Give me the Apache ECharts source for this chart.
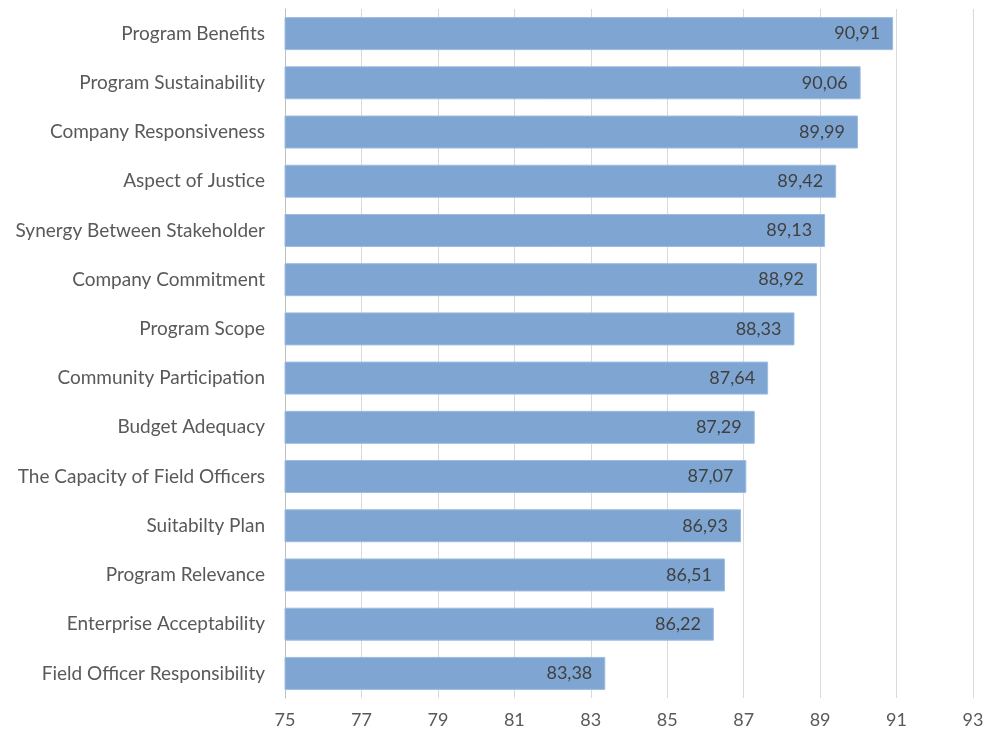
<!DOCTYPE html>
<html><head><meta charset="utf-8">
<script src="https://cdn.jsdelivr.net/npm/echarts@6/dist/echarts.min.js"></script>
<style>html,body{margin:0;padding:0;background:#fff}#c{width:987px;height:735px}</style>
</head><body><div id="c"></div>
<script>
const categories = ["Program Benefits","Program Sustainability","Company Responsiveness","Aspect of Justice","Synergy Between Stakeholder","Company Commitment","Program Scope","Community Participation","Budget Adequacy","The Capacity of Field Officers","Suitabilty Plan","Program Relevance","Enterprise Acceptability","Field Officer Responsibility"];
const values = [90.91,90.06,89.99,89.42,89.13,88.92,88.33,87.64,87.29,87.07,86.93,86.51,86.22,83.38];
const xMin = 75, xMax = 93, xStep = 2;

const chart = echarts.init(document.getElementById('c'));
chart.setOption({
  animation: false,
  grid: {left: 285, right: 14, top: 9, bottom: 37, containLabel: false},
  xAxis: {
    type: 'value', min: xMin, max: xMax, interval: xStep,
    axisLine: {show: false}, axisTick: {show: false},
    splitLine: {show: true, lineStyle: {color: '#d9d9d9', width: 1}},
    axisLabel: {color: '#595959', fontSize: 18, fontFamily: 'Lato', margin: 13}
  },
  yAxis: {
    type: 'category', data: categories, inverse: true,
    axisLine: {show: true, lineStyle: {color: '#bfbfbf', width: 1}},
    axisTick: {show: false},
    axisLabel: {color: '#595959', fontSize: 19, fontFamily: 'Lato', margin: 20}
  },
  series: [{
    type: 'bar', data: values, barCategoryGap: '33%',
    itemStyle: {color: '#7fa6d2', borderColor: '#9dbbe0', borderWidth: 1},
    label: {
      show: true, position: 'insideRight', distance: 13,
      color: '#404040', fontSize: 18, fontFamily: 'Lato',
      formatter: p => p.value.toFixed(2).replace('.', ',')
    }
  }]
});
</script></body></html>
